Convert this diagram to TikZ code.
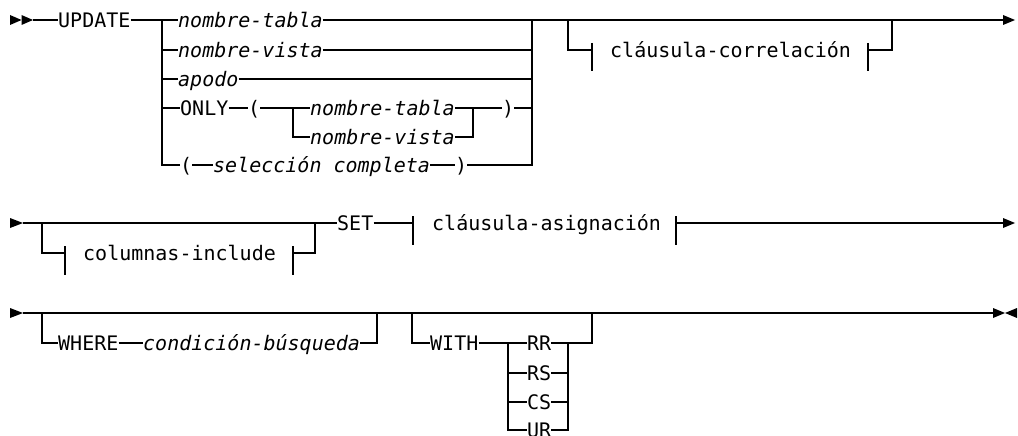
\documentclass[tikz,border=0pt]{standalone}
\usepackage{fontspec}
\setmainfont{DejaVu Sans Mono}
\begin{document}
\begin{tikzpicture}[x=1pt,y=1pt,
  rl/.style={line width=1.2pt},
  kw/.style={inner sep=0pt, text height=14.6pt, text depth=0pt, anchor=west, font=\fontsize{20}{24}\selectfont},
  var/.style={kw, font=\fontsize{20}{24}\selectfont\itshape},
  tipfill/.style={fill=black, draw=none}]
\useasboundingbox (0,0) rectangle (1018,-436);

% ---------------- Row 1 ----------------
\fill[tipfill] (10,-15) -- (21.5,-20) -- (10,-25) -- cycle;
\fill[tipfill] (21.5,-15) -- (33,-20) -- (21.5,-25) -- cycle;
\coordinate (s1) at (33,-20);
\node[kw] (update) at (58,-20) {UPDATE};
\coordinate (b1) at (162,-20);
\coordinate (r1) at (532,-20);
\node[var] (nt1) at (178,-20) {nombre-tabla};
\node[var] (nv1) at (178,-50) {nombre-vista};
\node[var] (ap) at (178,-79) {apodo};
\node[kw] (only) at (180,-108) {ONLY};
\node[kw] (olp) at (248,-108) {(};
\coordinate (ob) at (293,-108);
\node[var] (nt2) at (310,-108) {nombre-tabla};
\node[var] (nv2) at (310,-137) {nombre-vista};
\coordinate (oe) at (473,-108);
\node[kw] (orp) at (502,-108) {)};
\node[kw] (slp) at (180,-165) {(};
\node[var] (sel) at (213,-165) {selección completa};
\node[kw] (srp) at (455,-165) {)};

\draw[rl] (s1) -- (update.west);
\draw[rl] (update.east) -- (b1) -- (nt1.west);
\draw[rl] (b1) |- (slp.west);
\draw[rl] (b1 |- nv1) -- (nv1.west);
\draw[rl] (b1 |- ap) -- (ap.west);
\draw[rl] (b1 |- only) -- (only.west);
\draw[rl] (nt1.east) -- (r1);
\draw[rl] (nv1.east) -- (r1 |- nv1);
\draw[rl] (ap.east) -- (r1 |- ap);
\draw[rl] (only.east) -- (olp.west);
\draw[rl] (olp.east) -- (ob) -- (nt2.west);
\draw[rl] (ob) |- (nv2.west);
\draw[rl] (nt2.east) -- (oe);
\draw[rl] (nv2.east) -| (oe);
\draw[rl] (oe) -- (orp.west);
\draw[rl] (orp.east) -- (r1 |- orp);
\draw[rl] (slp.east) -- (sel.west);
\draw[rl] (sel.east) -- (srp.west);
\draw[rl] (srp.east) -| (r1);

% correlation clause
\coordinate (c1) at (568,-20);
\coordinate (c2) at (892,-20);
\coordinate (e1) at (1003,-20);
\node[kw] (corr) at (610,-50) {cláusula-correlación};
\coordinate (cl) at (592,-50);
\coordinate (cr) at (868,-50);
\draw[rl] (r1) -- (e1);
\draw[rl] (c1) |- (cl);
\draw[rl] (592,-43) -- (592,-71);
\draw[rl] (868,-43) -- (868,-71);
\draw[rl] (cr) -| (c2);
\fill[tipfill] (1003,-15) -- (1015,-20) -- (1003,-25) -- cycle;

% ---------------- Row 2 ----------------
\fill[tipfill] (10,-218) -- (23,-223) -- (10,-228) -- cycle;
\coordinate (s2) at (23,-223);
\coordinate (b2) at (42,-223);
\coordinate (r2) at (315,-223);
\node[kw] (colinc) at (83,-253) {columnas-include};
\coordinate (ccl) at (65,-253);
\coordinate (ccr) at (293,-253);
\node[kw] (set) at (337,-223) {SET};
\node[kw] (asig) at (432,-223) {cláusula-asignación};
\coordinate (al) at (413,-223);
\coordinate (ar) at (676,-223);
\coordinate (e2) at (1003,-223);
\draw[rl] (s2) -- (set.west);
\draw[rl] (b2) |- (ccl);
\draw[rl] (65,-246) -- (65,-275);
\draw[rl] (293,-246) -- (293,-275);
\draw[rl] (ccr) -| (r2);
\draw[rl] (set.east) -- (al);
\draw[rl] (413,-216) -- (413,-245);
\draw[rl] (676,-216) -- (676,-245);
\draw[rl] (ar) -- (e2);
\fill[tipfill] (1003,-218) -- (1015,-223) -- (1003,-228) -- cycle;

% ---------------- Row 3 ----------------
\fill[tipfill] (10,-308) -- (23,-313) -- (10,-318) -- cycle;
\coordinate (s3) at (23,-313);
\coordinate (e3) at (993,-313);
\coordinate (b3) at (42,-313);
\coordinate (r3) at (377,-313);
\node[kw] (where) at (58,-343) {WHERE};
\node[var] (cond) at (143,-343) {condición-búsqueda};
\coordinate (b4) at (412,-313);
\coordinate (r4) at (592,-313);
\node[kw] (with) at (430,-343) {WITH};
\coordinate (wb) at (508,-343);
\coordinate (we) at (568,-343);
\node[kw] (rr) at (527,-343) {RR};
\node[kw] (rs) at (527,-373) {RS};
\node[kw] (cs) at (527,-402) {CS};
\node[kw] (ur) at (527,-430) {UR};
\draw[rl] (s3) -- (e3);
\draw[rl] (b3) |- (where.west);
\draw[rl] (where.east) -- (cond.west);
\draw[rl] (cond.east) -| (r3);
\draw[rl] (b4) |- (with.west);
\draw[rl] (with.east) -- (wb) -- (rr.west);
\draw[rl] (wb) |- (ur.west);
\draw[rl] (wb |- rs) -- (rs.west);
\draw[rl] (wb |- cs) -- (cs.west);
\draw[rl] (rr.east) -- (we);
\draw[rl] (rs.east) -- (we |- rs);
\draw[rl] (cs.east) -- (we |- cs);
\draw[rl] (ur.east) -| (we);
\draw[rl] (we) -- (r4 |- we) -- (r4);
\fill[tipfill] (993,-308) -- (1005,-313) -- (993,-318) -- cycle;
\fill[tipfill] (1017,-308) -- (1005,-313) -- (1017,-318) -- cycle;
\end{tikzpicture}
\end{document}
